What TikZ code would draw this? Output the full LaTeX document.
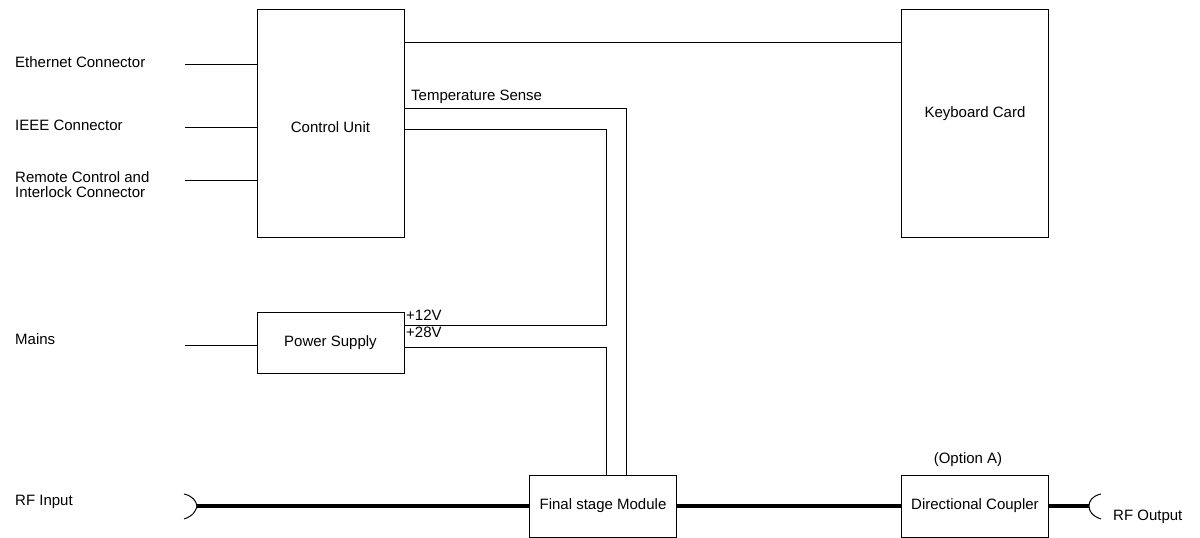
\documentclass[tikz,border=0pt]{standalone}
\usepackage{fontspec}
\setmainfont{Liberation Sans}
\begin{document}
\begin{tikzpicture}[x=1pt,y=-1pt,
  every node/.style={font=\fontsize{15}{15}\selectfont, inner sep=0pt},
  blk/.style={draw, line width=1pt, minimum width=147pt, anchor=center},
  lbl/.style={anchor=base west, align=left},
  wire/.style={line width=1pt},
  rf/.style={line width=3.6pt},
  conn/.style={line width=1pt}]
\useasboundingbox (0,0) rectangle (1200,538);
% blocks
\node[blk, minimum height=228pt, label={[yshift=-4pt]center:Control Unit}] (cu) at (330.5,123) {};
\node[blk, minimum height=228pt, label={[yshift=9pt]center:Keyboard Card}] (kb) at (975,123) {};
\node[blk, minimum height=61pt] (ps) at (330.5,342.5) {Power Supply};
\node[blk, minimum height=62pt] (fsm) at (603,506) {Final stage Module};
\node[blk, minimum height=62pt] (dc) at (975,506) {Directional Coupler};
% labels
\node[lbl] (leth) at (15,67) {Ethernet Connector};
\node[lbl] (lieee) at (15,130) {IEEE Connector};
\node[lbl] (lrem) at (15,197) {Remote Control and\\Interlock Connector};
\node[lbl] (lmains) at (15,344) {Mains};
\node[lbl] (lrfin) at (15,505) {RF Input};
\node[lbl] (ltemp) at (411,100) {Temperature Sense};
\node[lbl] (l12) at (406,320) {+12V};
\node[lbl] (l28) at (406,337) {+28V};
\node[anchor=base] (lopt) at (968,463) {(Option A)};
\node[lbl] (lrfout) at (1113,520) {RF Output};
% input stubs
\coordinate (eth) at (185,64);
\coordinate (ieee) at (185,127);
\coordinate (rem) at (185,180);
\coordinate (mains) at (185,345);
\draw[wire] (eth) -- (eth -| cu.west);
\draw[wire] (ieee) -- (ieee -| cu.west);
\draw[wire] (rem) -- (rem -| cu.west);
\draw[wire] (mains) -- (mains -| ps.west);
% control unit to keyboard
\coordinate (k0) at (404,42);
\draw[wire] (k0 -| cu.east) -- (k0 -| kb.west);
% temperature sense
\coordinate (t0) at (404,108);
\coordinate (t1) at (626,108);
\draw[wire] (t0 -| cu.east) -- (t1) -- (t1 |- fsm.north);
% +12V loop
\coordinate (v0) at (404,129);
\coordinate (v1) at (606,129);
\coordinate (v2) at (606,325);
\draw[wire] (v0 -| cu.east) -- (v1) -- (v2) -- (v2 -| ps.east);
% +28V
\coordinate (w0) at (404,347);
\coordinate (w1) at (606,347);
\draw[wire] (w0 -| ps.east) -- (w1) -- (w1 |- fsm.north);
% RF connectors
\coordinate (rfin) at (197,506);
\draw[conn] (184,494) .. controls (193,496) and (196,501) .. (rfin) .. controls (196,511) and (193,516) .. (184,519);
\coordinate (rfout) at (1089,506);
\draw[conn] (1101,494) .. controls (1092,496) and (1089,501) .. (rfout) .. controls (1089,511) and (1092,516) .. (1101,519);
\draw[rf] (rfin) -- (fsm.west);
\draw[rf] (fsm.east) -- (dc.west);
\draw[rf] (dc.east) -- (rfout);
\end{tikzpicture}
\end{document}
